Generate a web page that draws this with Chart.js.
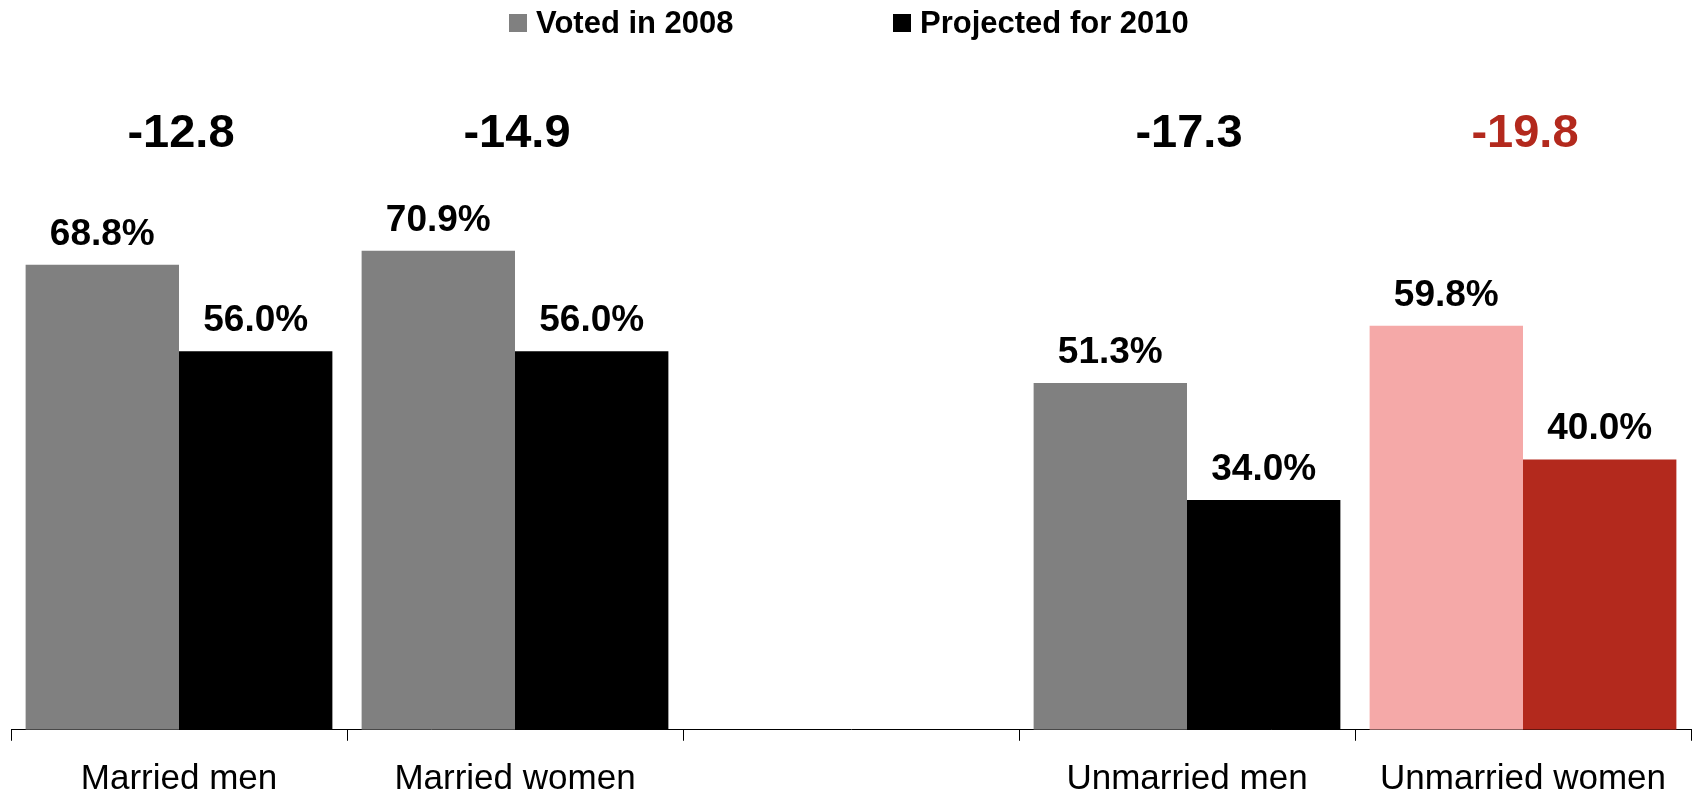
<!DOCTYPE html>
<html lang="en">
<head>
  <meta charset="UTF-8" />
  <title>Turnout 2008 vs 2010</title>
  <script src="https://cdn.jsdelivr.net/npm/chart.js"></script>
  <style>
    body { margin: 0; background: #fff; }
    #wrap { width: 1694px; height: 796px; }
  </style>
</head>
<body>
  <div id="wrap"><canvas id="turnout" width="1694" height="796"></canvas></div>

  <script>
    const categories = ['Married men', 'Married women', '', 'Unmarried men', 'Unmarried women'];
    const voted2008 = [68.8, 70.9, null, 51.3, 59.8];
    const projected2010 = [56.0, 56.0, null, 34.0, 40.0];
    const dropLabels = ['-12.8', '-14.9', '', '-17.3', '-19.8'];
    const seriesNames = ['Voted in 2008', 'Projected for 2010'];

    const gray = '#808080';
    const pink = '#f5a9a8';
    const red = '#b3291d';
    const FONT = '"Liberation Sans", Arial, Helvetica, sans-serif';

    // last group is highlighted in reds
    const voted2008Colors = [gray, gray, gray, gray, pink];
    const projected2010Colors = ['#000', '#000', '#000', '#000', red];
    const dropColors = ['#000', '#000', '#000', '#000', red];

    const barLabels = {
      id: 'barLabels',
      afterDatasetsDraw(chart) {
        const ctx = chart.ctx;
        ctx.save();
        ctx.textAlign = 'center';
        ctx.textBaseline = 'alphabetic';
        ctx.fillStyle = '#000';
        ctx.font = 'bold 37px ' + FONT;
        chart.data.datasets.forEach((ds, di) => {
          chart.getDatasetMeta(di).data.forEach((bar, i) => {
            if (ds.data[i] == null) return;
            ctx.fillText(ds.data[i].toFixed(1) + '%', bar.x, bar.y - 20);
          });
        });
        // change between the two series, above each group
        const xs = chart.scales.x;
        ctx.font = 'bold 47px ' + FONT;
        dropLabels.forEach((txt, i) => {
          if (!txt) return;
          ctx.fillStyle = dropColors[i];
          ctx.fillText(txt, xs.getPixelForValue(i) + 2, 147);
        });
        ctx.restore();
      }
    };

    // legend drawn by hand so the two items can sit far apart
    const topLegend = {
      id: 'topLegend',
      afterDraw(chart) {
        const ctx = chart.ctx;
        const boxes = [gray, '#000'];
        const starts = [509, 893];
        ctx.save();
        ctx.font = 'bold 31px ' + FONT;
        ctx.textBaseline = 'middle';
        ctx.textAlign = 'left';
        seriesNames.forEach((name, i) => {
          ctx.fillStyle = boxes[i];
          ctx.fillRect(starts[i], 14, 18, 18);
          ctx.fillStyle = '#000';
          ctx.fillText(name, starts[i] + 27, 24);
        });
        ctx.restore();
      }
    };

    new Chart(document.getElementById('turnout'), {
      type: 'bar',
      data: {
        labels: categories,
        datasets: [
          { label: seriesNames[0], data: voted2008, backgroundColor: voted2008Colors },
          { label: seriesNames[1], data: projected2010, backgroundColor: projected2010Colors }
        ]
      },
      options: {
        responsive: false,
        animation: false,
        layout: { padding: { top: 54, left: 11, right: 3, bottom: -22 } },
        datasets: {
          bar: { categoryPercentage: 0.913, barPercentage: 1.0, borderWidth: 0 }
        },
        scales: {
          x: {
            grid: {
              display: true,
              offset: true,
              drawOnChartArea: false,
              drawTicks: true,
              tickLength: 11,
              color: '#000',
              lineWidth: 1
            },
            border: { display: true, color: '#000', width: 1 },
            ticks: {
              color: '#000',
              padding: 17,
              maxRotation: 0,
              autoSkip: false,
              font: { family: FONT, size: 35, lineHeight: 1.235 }
            }
          },
          y: {
            display: false,
            min: 0,
            max: 100
          }
        },
        plugins: {
          legend: { display: false },
          tooltip: { enabled: false }
        }
      },
      plugins: [barLabels, topLegend]
    });
  </script>
</body>
</html>
